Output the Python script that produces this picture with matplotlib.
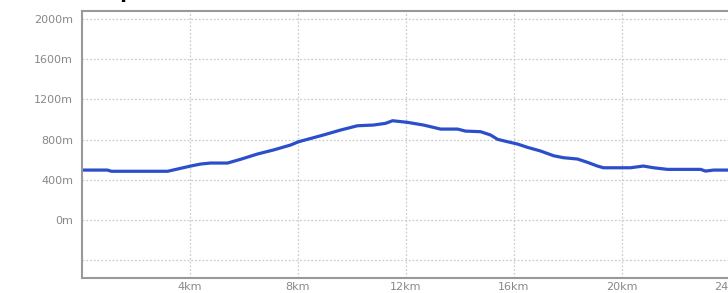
import matplotlib
matplotlib.use("Agg")
import matplotlib.pyplot as plt

# Elevation profile (distance in km, elevation in m)
dist_km = [0.0, 0.96, 1.11, 3.19, 4.04, 4.41, 4.78, 5.41, 5.89, 6.52, 7.11, 7.74,
           8.04, 8.37, 8.96, 9.59, 10.22, 10.81, 11.26, 11.52, 12.07, 12.67, 13.30,
           13.93, 14.22, 14.78, 15.15, 15.41, 15.78, 16.15, 16.52, 17.0, 17.48,
           17.85, 18.37, 18.74, 19.11, 19.33, 20.33, 20.81, 21.19, 21.70, 22.93,
           23.11, 23.41, 24.5]
elev_m = [497, 497, 485, 485, 537, 557, 567, 567, 604, 657, 697, 746,
          779, 803, 846, 895, 938, 945, 962, 988, 972, 945, 905,
          905, 885, 879, 846, 803, 779, 756, 723, 687, 640,
          620, 607, 574, 537, 520, 520, 537, 520, 504, 504,
          487, 497, 497]

x_ticks = [4, 8, 12, 16, 20, 24]
x_labels = ["4km", "8km", "12km", "16km", "20km", "24km"]
y_ticks = [-400, 0, 400, 800, 1200, 1600, 2000]
y_labels = ["", "0m", "400m", "800m", "1200m", "1600m", "2000m"]

fig = plt.figure(figsize=(7.28, 2.93), dpi=100)
# axes runs past the right edge of the image, as in the reference
ax = fig.add_axes([81.5 / 728, 14.7 / 293, 25 * 27 / 728, 267.6 / 293])

ax.plot(dist_km, elev_m, color="#2b4fcb", linewidth=2.3, solid_joinstyle="round")

ax.set_xlim(0, 25)
ax.set_ylim(-580, 2083)
ax.set_xticks(x_ticks)
ax.set_xticklabels(x_labels)
ax.set_yticks(y_ticks)
ax.set_yticklabels(y_labels)

ax.grid(True, color="#cccccc", linestyle=(0, (1.5, 1.5)), linewidth=0.9)
ax.tick_params(length=0, labelsize=8, labelcolor="#888888")
ax.tick_params(axis="y", pad=6)
ax.tick_params(axis="x", pad=3)

for side in ["left", "bottom", "top"]:
    ax.spines[side].set_color("#999999")
    ax.spines[side].set_linewidth(1.5)
ax.spines["right"].set_visible(False)

# title sits above the image; only the descender of the "p" shows
fig.text(0.015, 1.006, "Elevation profile", fontsize=14, fontweight="bold",
         color="black", ha="left", va="baseline")

fig.savefig("out.png", dpi=100)
